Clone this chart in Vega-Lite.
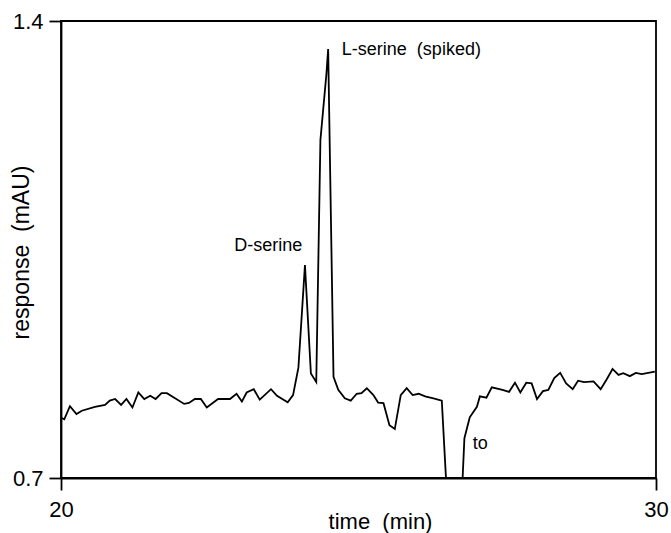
{
  "$schema": "https://vega.github.io/schema/vega-lite/v6.json",
  "width": 595,
  "height": 457,
  "autosize": "none",
  "padding": {"left": 61, "top": 21, "right": 15, "bottom": 55},
  "background": "white",
  "config": {
    "view": {"stroke": "black", "strokeWidth": 1.8},
    "font": "Liberation Sans"
  },
  "datasets": {
    "trace": [
      {"t": 20.01, "v": 0.792}, {"t": 20.055, "v": 0.790}, {"t": 20.15, "v": 0.810}, {"t": 20.26, "v": 0.798},
      {"t": 20.35, "v": 0.803}, {"t": 20.57, "v": 0.809}, {"t": 20.74, "v": 0.812}, {"t": 20.82, "v": 0.8185},
      {"t": 20.91, "v": 0.821}, {"t": 21.01, "v": 0.812}, {"t": 21.10, "v": 0.821}, {"t": 21.20, "v": 0.808},
      {"t": 21.30, "v": 0.831}, {"t": 21.40, "v": 0.821}, {"t": 21.50, "v": 0.826}, {"t": 21.59, "v": 0.821},
      {"t": 21.69, "v": 0.830}, {"t": 21.78, "v": 0.830}, {"t": 22.07, "v": 0.8135}, {"t": 22.15, "v": 0.815},
      {"t": 22.25, "v": 0.821}, {"t": 22.35, "v": 0.821}, {"t": 22.45, "v": 0.808}, {"t": 22.64, "v": 0.821},
      {"t": 22.84, "v": 0.821}, {"t": 22.95, "v": 0.829}, {"t": 23.04, "v": 0.817}, {"t": 23.12, "v": 0.831},
      {"t": 23.24, "v": 0.836}, {"t": 23.34, "v": 0.820}, {"t": 23.53, "v": 0.836}, {"t": 23.63, "v": 0.826},
      {"t": 23.81, "v": 0.816}, {"t": 23.90, "v": 0.827}, {"t": 23.99, "v": 0.869}, {"t": 24.10, "v": 1.026},
      {"t": 24.20, "v": 0.860}, {"t": 24.29, "v": 0.847}, {"t": 24.36, "v": 1.218}, {"t": 24.46, "v": 1.318},
      {"t": 24.49, "v": 1.357}, {"t": 24.58, "v": 0.855}, {"t": 24.66, "v": 0.835}, {"t": 24.77, "v": 0.822},
      {"t": 24.87, "v": 0.8185}, {"t": 24.97, "v": 0.829}, {"t": 25.05, "v": 0.830}, {"t": 25.14, "v": 0.8375},
      {"t": 25.25, "v": 0.827}, {"t": 25.33, "v": 0.8155}, {"t": 25.42, "v": 0.8146}, {"t": 25.52, "v": 0.781},
      {"t": 25.61, "v": 0.775}, {"t": 25.71, "v": 0.827}, {"t": 25.81, "v": 0.8375}, {"t": 25.91, "v": 0.827},
      {"t": 26.01, "v": 0.829}, {"t": 26.12, "v": 0.825}, {"t": 26.26, "v": 0.822}, {"t": 26.40, "v": 0.8185},
      {"t": 26.47, "v": 0.700}, {"t": 26.75, "v": 0.700}, {"t": 26.78, "v": 0.761}, {"t": 26.87, "v": 0.793},
      {"t": 26.99, "v": 0.809}, {"t": 27.04, "v": 0.825}, {"t": 27.15, "v": 0.823}, {"t": 27.24, "v": 0.839},
      {"t": 27.42, "v": 0.835}, {"t": 27.53, "v": 0.832}, {"t": 27.63, "v": 0.846}, {"t": 27.72, "v": 0.831},
      {"t": 27.82, "v": 0.846}, {"t": 27.91, "v": 0.845}, {"t": 28.00, "v": 0.821}, {"t": 28.10, "v": 0.833},
      {"t": 28.19, "v": 0.835}, {"t": 28.29, "v": 0.853}, {"t": 28.39, "v": 0.861}, {"t": 28.49, "v": 0.845},
      {"t": 28.60, "v": 0.836}, {"t": 28.69, "v": 0.849}, {"t": 28.79, "v": 0.847}, {"t": 28.95, "v": 0.848},
      {"t": 29.07, "v": 0.836}, {"t": 29.17, "v": 0.851}, {"t": 29.27, "v": 0.867}, {"t": 29.37, "v": 0.858},
      {"t": 29.45, "v": 0.8605}, {"t": 29.56, "v": 0.856}, {"t": 29.66, "v": 0.861}, {"t": 29.76, "v": 0.859},
      {"t": 29.98, "v": 0.863}
    ],
    "labels": [
      {"t": 24.72, "v": 1.3556, "label": "L-serine\u00a0\u00a0(spiked)"},
      {"t": 22.91, "v": 1.0554, "label": "D-serine"},
      {"t": 26.92, "v": 0.7522, "label": "to"}
    ]
  },
  "layer": [
    {
      "data": {"name": "trace"},
      "mark": {"type": "line", "color": "black", "strokeWidth": 1.8, "clip": true, "strokeJoin": "miter"},
      "encoding": {
        "x": {
          "field": "t", "type": "quantitative",
          "scale": {"domain": [20, 30], "nice": false, "zero": false},
          "axis": {
            "values": [20, 30], "format": "d", "grid": false, "labelFlush": false,
            "domainColor": "black", "domainWidth": 1.8,
            "tickColor": "black", "tickWidth": 1.8, "tickSize": 12,
            "labelFontSize": 22, "labelColor": "black", "labelPadding": 9,
            "labelFont": "Liberation Sans",
            "title": "time\u00a0\u00a0(min)", "titleFontSize": 22, "titleFontWeight": "normal",
            "titleColor": "black", "titleFont": "Liberation Sans",
            "titleX": 319, "titleY": 43, "titleBaseline": "middle", "titleAlign": "center"
          }
        },
        "y": {
          "field": "v", "type": "quantitative",
          "scale": {"domain": [0.7, 1.4], "nice": false, "zero": false},
          "axis": {
            "values": [0.7, 1.4], "format": ".1f", "grid": false, "labelFlush": false,
            "domainColor": "black", "domainWidth": 1.8,
            "tickColor": "black", "tickWidth": 1.8, "tickSize": 12,
            "labelFontSize": 22, "labelColor": "black", "labelPadding": 6,
            "labelFont": "Liberation Sans",
            "title": "response\u00a0\u00a0(mAU)", "titleFontSize": 23, "titleFontWeight": "normal",
            "titleColor": "black", "titleFont": "Liberation Sans",
            "titleAngle": -90, "titleX": -40, "titleY": 231, "titleBaseline": "middle", "titleAlign": "center"
          }
        }
      }
    },
    {
      "data": {"name": "labels"},
      "mark": {"type": "text", "align": "left", "baseline": "middle", "fontSize": 18, "font": "Liberation Sans", "color": "black"},
      "encoding": {
        "x": {"field": "t", "type": "quantitative"},
        "y": {"field": "v", "type": "quantitative"},
        "text": {"field": "label"}
      }
    }
  ]
}
